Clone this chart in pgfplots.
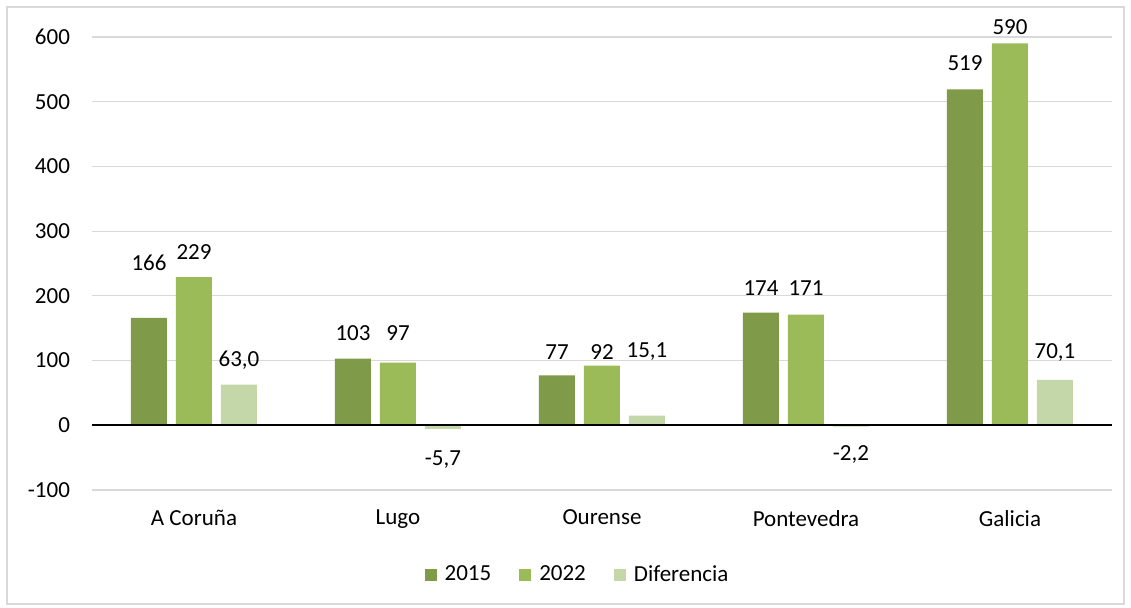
\documentclass[border=0pt]{standalone}
\usepackage{pgfplots}
\pgfplotsset{compat=1.18}
\usetikzlibrary{calc}
\usepackage{fontspec}
\setmainfont{Carlito}
\definecolor{cA}{HTML}{7F9A48}
\definecolor{cB}{HTML}{9BBB59}
\definecolor{cC}{HTML}{C4D7A9}
\definecolor{gridc}{HTML}{D9D9D9}
\begin{document}
\fontsize{11.5}{13.5}\selectfont
\begin{tikzpicture}
\begin{axis}[
  scale only axis, width=510pt, height=226.5pt,
  xmin=-0.5, xmax=4.5, ymin=-100, ymax=600,
  ytick={-100,0,...,600},
  xtick={0,1,2,3,4},
  xticklabels={A Coruña,Lugo,Ourense,Pontevedra,Galicia},
  ymajorgrids, grid style={gridc, line width=0.6pt},
  axis line style={draw=none},
  major tick length=0pt,
  /pgf/number format/assume math mode=true,
  ticklabel style={font=\fontsize{11.5}{13.5}\selectfont},
  yticklabel style={xshift=-7pt},
  xticklabel style={yshift=-6pt},
  clip=false,
  legend style={draw=none, at={(rel axis cs:0.477,-0.1876)}, anchor=center,
     legend columns=3, font=\fontsize{11.5}{13.5}\selectfont,
     /tikz/every even column/.append style={column sep=12pt}},
  legend image code/.code={\path[#1] (0pt,-3pt) rectangle (6pt,3pt); \path (8pt,0pt);},
]
\addplot[ybar, bar width=18pt, bar shift=-22.5pt, fill=cA, draw=none]
  coordinates {(0,166) (1,103) (2,77) (3,174) (4,519)};
\addlegendentry{2015}
\addplot[ybar, bar width=18pt, bar shift=0pt, fill=cB, draw=none]
  coordinates {(0,229) (1,97) (2,92) (3,171) (4,590)};
\addlegendentry{2022}
\addplot[ybar, bar width=18pt, bar shift=22.5pt, fill=cC, draw=none]
  coordinates {(0,63.0) (1,-5.7) (2,15.1) (3,-2.2) (4,70.1)};
\addlegendentry{Diferencia}
\draw[black, line width=0.8pt] (axis cs:-0.5,0) -- (axis cs:4.5,0);
% data labels
\addplot[only marks, mark=none, forget plot, xshift=-22.5pt,
  nodes near coords, point meta=explicit symbolic,
  every node near coord/.append style={anchor=center, font=\fontsize{11.5}{13.5}\selectfont}]
  coordinates {(0,250.8)[166] (1,142.6)[103] (2,113.3)[77] (3,212.2)[174] (4,560)[519]};
\addplot[only marks, mark=none, forget plot,
  nodes near coords, point meta=explicit symbolic,
  every node near coord/.append style={anchor=center, font=\fontsize{11.5}{13.5}\selectfont}]
  coordinates {(0,267.8)[229] (1,142.6)[97] (2,113.3)[92] (3,212.2)[171] (4,615.5)[590]};
\addplot[only marks, mark=none, forget plot, xshift=22.5pt,
  nodes near coords, point meta=explicit symbolic,
  every node near coord/.append style={anchor=center, font=\fontsize{11.5}{13.5}\selectfont}]
  coordinates {(0,100.9)[{63,0}] (1,-53.6)[{-5,7}] (2,113.3)[{15,1}] (3,-45.9)[{-2,2}] (4,111.7)[{70,1}]};
\coordinate (O) at (rel axis cs:0,0);
\end{axis}
\path[use as bounding box] ($(O)+(-46pt,245pt)$) rectangle ($(O)+(519.5pt,-59pt)$);
\draw[gridc, line width=0.6pt] ($(O)+(-42.5pt,241.5pt)$) rectangle ($(O)+(516pt,-57pt)$);
\end{tikzpicture}
\end{document}
